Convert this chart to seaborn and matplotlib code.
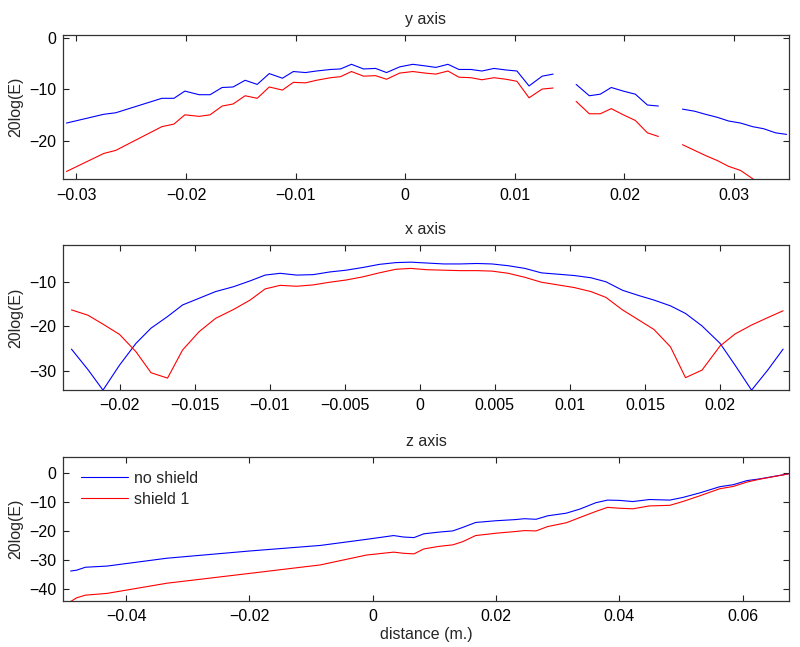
import numpy as np
import pandas as pd
import seaborn as sns
from matplotlib import pyplot as plt
from matplotlib.ticker import FuncFormatter

nan = np.nan

# y axis scan (gaps where no measurement)
y_dist = [-0.0309, -0.0275, -0.0264, -0.0222, -0.0211, -0.0201, -0.0188, -0.0178, -0.0167, -0.0157,
          -0.0146, -0.0135, -0.0124, -0.0112, -0.0102, -0.0091, -0.0081, -0.0068, -0.0059, -0.0049,
          -0.0038, -0.0027, -0.0017, -0.0005, 0.0007, 0.0018, 0.0028, 0.0039, 0.0049, 0.0060,
          0.0070, 0.0081, 0.0092, 0.0102, 0.0113, 0.0125, 0.0135, 0.0145, 0.0156, 0.0168,
          0.0178, 0.0188, 0.0199, 0.0210, 0.0221, 0.0231, 0.0242, 0.0253, 0.0264, 0.0274,
          0.0285, 0.0295, 0.0306, 0.0317, 0.0327, 0.0338, 0.0348]
y_noshield = [-16.6, -14.9, -14.6, -11.8, -11.8, -10.4, -11.1, -11.1, -9.7, -9.6,
              -8.3, -9.1, -7.0, -7.9, -6.6, -6.8, -6.5, -6.2, -6.1, -5.2,
              -6.1, -6.0, -6.8, -5.7, -5.2, -5.5, -5.8, -5.2, -6.2, -6.2,
              -6.5, -6.0, -6.3, -6.5, -9.4, -7.5, -7.1, nan, -9.1, -11.3,
              -11.0, -9.7, -10.4, -11.0, -13.1, -13.3, nan, -13.9, -14.3, -14.9,
              -15.5, -16.2, -16.6, -17.3, -17.7, -18.5, -18.8]
y_shield1 = [-26.0, -22.5, -21.9, -17.3, -16.8, -15.0, -15.3, -15.0, -13.3, -12.9,
             -11.3, -11.8, -9.6, -10.2, -8.7, -8.8, -8.3, -7.8, -7.6, -6.6,
             -7.5, -7.4, -8.1, -6.9, -6.6, -6.9, -7.1, -6.5, -7.7, -7.8,
             -8.2, -7.8, -8.1, -8.5, -11.7, -10.0, -9.8, nan, -12.4, -14.8,
             -14.8, -13.8, -15.0, -16.1, -18.5, -19.2, nan, -20.8, -21.9, -22.9,
             -23.9, -25.0, -25.8, -27.4, -29.0, -30.2, -31.2]

# x axis scan
x_dist = [-0.0232, -0.0221, -0.0211, -0.0200, -0.0189, -0.0179, -0.0168, -0.0158, -0.0147, -0.0136,
          -0.0124, -0.0113, -0.0103, -0.0093, -0.0082, -0.0071, -0.0060, -0.0049, -0.0038, -0.0027,
          -0.0016, -0.0006, 0.0005, 0.0016, 0.0027, 0.0038, 0.0048, 0.0059, 0.0070, 0.0081,
          0.0092, 0.0103, 0.0114, 0.0124, 0.0135, 0.0146, 0.0156, 0.0167, 0.0177, 0.0188,
          0.0200, 0.0210, 0.0221, 0.0232, 0.0242]
x_noshield = [-25.1, -29.7, -34.3, -28.7, -23.8, -20.4, -17.8, -15.2, -13.7, -12.2,
              -11.1, -9.8, -8.5, -8.1, -8.5, -8.4, -7.8, -7.4, -6.8, -6.1,
              -5.7, -5.6, -5.8, -6.0, -6.0, -5.9, -6.0, -6.4, -7.0, -8.0,
              -8.3, -8.6, -9.1, -10.0, -11.9, -13.1, -14.1, -15.4, -17.1, -19.9,
              -23.8, -28.7, -34.3, -29.7, -25.1]
x_shield1 = [-16.3, -17.5, -19.5, -21.8, -25.7, -30.4, -31.6, -25.3, -21.2, -18.2,
             -16.2, -14.1, -11.6, -10.8, -11.0, -10.7, -10.1, -9.6, -8.9, -8.0,
             -7.2, -7.0, -7.3, -7.4, -7.5, -7.5, -7.6, -8.1, -9.0, -10.1,
             -10.7, -11.3, -12.2, -13.5, -16.3, -18.6, -20.7, -24.6, -31.5, -29.8,
             -24.4, -21.7, -19.7, -18.0, -16.5]

# z axis scan
z_dist = [-0.0490, -0.0480, -0.0466, -0.0431, -0.0334, -0.0199, -0.0085, -0.0010, 0.0034, 0.0050,
          0.0067, 0.0083, 0.0108, 0.0130, 0.0146, 0.0167, 0.0200, 0.0232, 0.0246, 0.0265,
          0.0284, 0.0314, 0.0336, 0.0362, 0.0381, 0.0400, 0.0422, 0.0449, 0.0482, 0.0503,
          0.0531, 0.0563, 0.0585, 0.0607, 0.0628, 0.0674]
z_noshield = [-33.7, -33.4, -32.4, -32.0, -29.3, -26.8, -24.9, -22.8, -21.5, -22.0,
              -22.2, -20.9, -20.3, -19.9, -18.7, -17.0, -16.4, -16.0, -15.7, -15.9,
              -14.7, -13.8, -12.4, -10.2, -9.3, -9.4, -9.8, -9.1, -9.3, -8.4,
              -6.8, -4.7, -4.0, -2.6, -2.0, -0.3]
z_shield1 = [-44.2, -42.9, -42.0, -41.4, -37.9, -34.5, -31.6, -28.2, -27.2, -27.6,
             -27.8, -26.1, -25.2, -24.7, -23.6, -21.5, -20.7, -20.1, -19.8, -19.9,
             -18.4, -17.1, -15.3, -13.2, -11.8, -12.1, -12.3, -11.3, -11.1, -9.8,
             -7.8, -5.4, -4.6, -3.1, -2.1, -0.3]

labels = ['no shield', 'shield 1']
colors = {'no shield': '#0000ff', 'shield 1': '#ff0000'}


def make_df(dist, a, b):
	dfs = []
	for name, vals in zip(labels, [a, b]):
		d = pd.DataFrame({'x': dist, 'y': vals})
		d['series'] = name
		d['segment'] = d['y'].isna().cumsum()  # split lines at gaps
		dfs.append(d.dropna())
	return pd.concat(dfs, ignore_index=True)


def fmt(v, pos):
	return ('%g' % round(v, 6)).replace('-', '\u2212')


sns.set_style('ticks')
plt.rcParams['font.family'] = ['Liberation Sans', 'DejaVu Sans']
plt.rcParams['font.size'] = 11.5

fig = plt.figure(figsize=(8, 6.47), dpi=100)
panels = [
	('y axis', make_df(y_dist, y_noshield, y_shield1), [0.079, 0.723, 0.907, 0.223],
	 (-0.0312, 0.035), (-27.5, 0.5), np.arange(-0.03, 0.031, 0.01), [-20, -10, 0]),
	('x axis', make_df(x_dist, x_noshield, x_shield1), [0.079, 0.397, 0.907, 0.224],
	 (-0.02375, 0.02458), (-34.3, -1.8), np.arange(-0.02, 0.021, 0.005), [-30, -20, -10]),
	('z axis', make_df(z_dist, z_noshield, z_shield1), [0.079, 0.0716, 0.907, 0.2224],
	 (-0.0502, 0.0675), (-43.9, 5.6), np.arange(-0.04, 0.061, 0.02), [-40, -30, -20, -10, 0]),
]

for i, (title, df, pos, xl, yl, xt, yt) in enumerate(panels):
	ax = fig.add_axes(pos)
	sns.lineplot(data=df, x='x', y='y', hue='series', units='segment', estimator=None,
				 sort=False, hue_order=labels, palette=colors, linewidth=0.8,
				 legend=(i == 2), ax=ax)
	ax.set_xlim(xl)
	ax.set_ylim(yl)
	ax.set_xticks(xt)
	ax.set_yticks(yt)
	ax.xaxis.set_major_formatter(FuncFormatter(fmt))
	ax.yaxis.set_major_formatter(FuncFormatter(fmt))
	ax.tick_params(direction='in', top=True, right=True, length=4, width=0.8,
				   labelsize=11.5, colors='#222222', labelcolor='black')
	ax.tick_params(axis='x', pad=6)
	ax.tick_params(axis='y', pad=5)
	for s in ax.spines.values():
		s.set_visible(True)
		s.set_linewidth(0.9)
		s.set_color('#333333')
	ax.set_title(title, fontsize=11.5, pad=8)
	ax.set_ylabel('20log(E)', fontsize=11.5)
	ax.yaxis.set_label_coords(-0.055, 0.5)
	if i == 2:
		ax.set_xlabel('distance (m.)', fontsize=11.5, labelpad=2)
		sns.move_legend(ax, 'upper left', title=None, frameon=False, fontsize=11.5,
						handlelength=2.9, handletextpad=0.4, labelspacing=0.36,
						borderaxespad=0.3, bbox_to_anchor=(0.0096, 0.979))
	else:
		ax.set_xlabel('')

fig.savefig('out.png', dpi=100)
